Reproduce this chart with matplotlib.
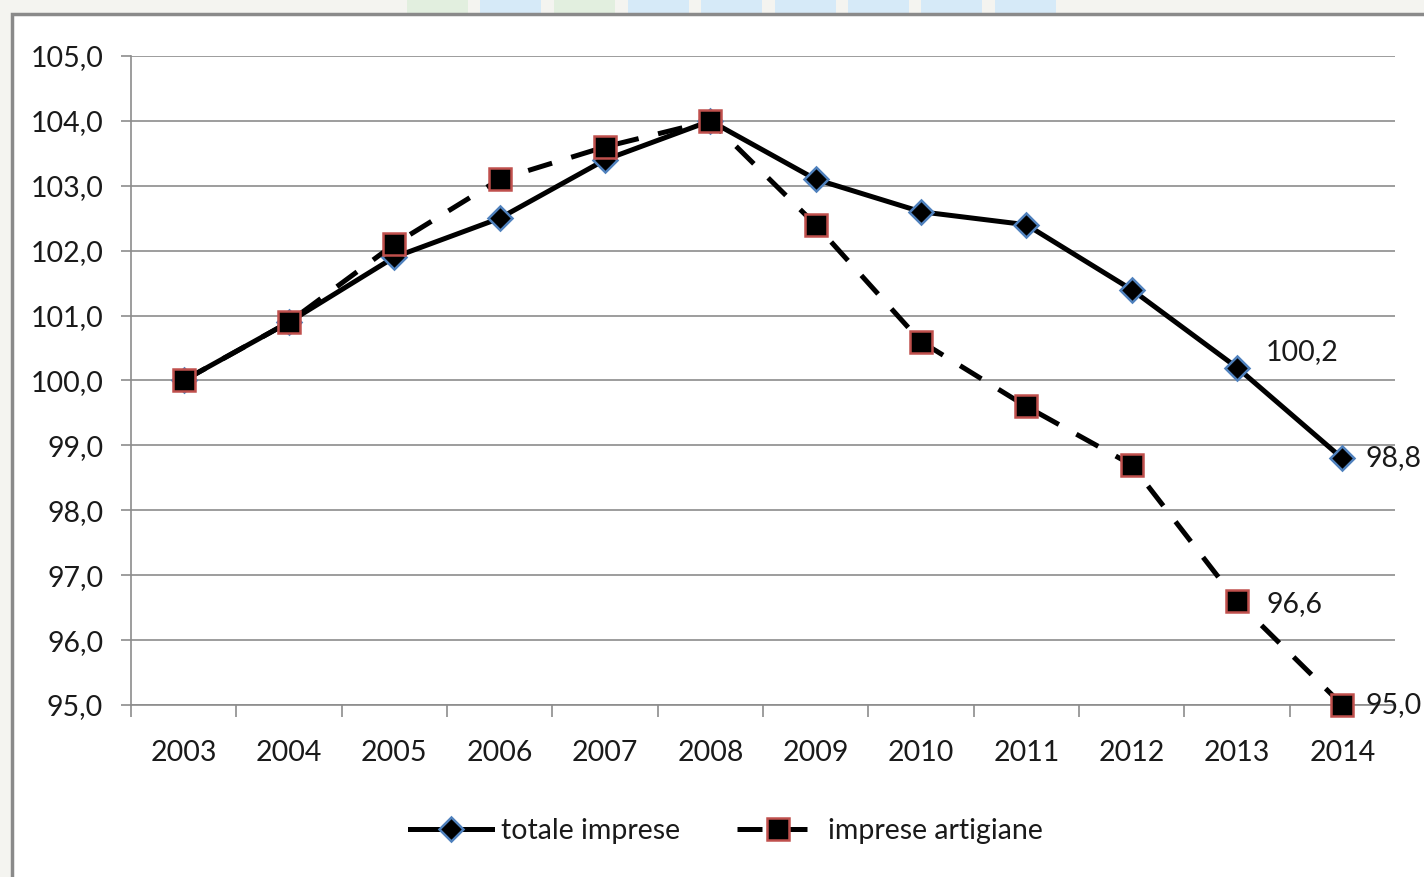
import matplotlib
matplotlib.use("Agg")
import matplotlib.pyplot as plt
from matplotlib.patches import Rectangle
from matplotlib.ticker import FuncFormatter, FixedLocator

years = ["2003", "2004", "2005", "2006", "2007", "2008",
         "2009", "2010", "2011", "2012", "2013", "2014"]
totale_imprese = [100.0, 100.9, 101.9, 102.5, 103.4, 104.0,
                  103.1, 102.6, 102.4, 101.4, 100.2, 98.8]
imprese_artigiane = [100.0, 100.9, 102.1, 103.1, 103.6, 104.0,
                     102.4, 100.6, 99.6, 98.7, 96.6, 95.0]
y_ticks = [95, 96, 97, 98, 99, 100, 101, 102, 103, 104, 105]

plt.rcParams['font.family'] = ['Lato', 'DejaVu Sans']

W, H = 1424, 877
fig = plt.figure(figsize=(W / 100, H / 100), dpi=100)
fig.patch.set_facecolor('#f4f4f0')

# decorative strip at top (background image remnants)
deco = [(407, '#e2efdf'), (480, '#d6eaf8'), (554, '#e2efdf'), (628, '#d6eaf8'),
        (701, '#d6eaf8'), (775, '#d6eaf8'), (848, '#d6eaf8'), (921, '#d6eaf8'),
        (995, '#d6eaf8')]
for x0, c in deco:
    fig.patches.append(Rectangle((x0 / W, 1 - 14 / H), 61 / W, 14 / H,
                                 transform=fig.transFigure, facecolor=c,
                                 edgecolor='none', zorder=0))

# white frame
fig.patches.append(Rectangle((12 / W, -0.1), 1.2, (1 - 14 / H) + 0.1,
                             transform=fig.transFigure, facecolor='white',
                             edgecolor='#8a8a8a', linewidth=2.5, zorder=1))

ax = fig.add_axes([131 / W, 1 - 705 / H, (1395 - 131) / W, (705 - 56) / H])
ax.set_facecolor('none')
ax.set_zorder(2)

x = list(range(len(years)))
ax.plot(x, totale_imprese, color='black', lw=3.6, marker='D', ms=12,
        mfc='black', mec='#4f81bd', mew=1.8, label='totale imprese', zorder=3,
        clip_on=False)
ax.plot(x, imprese_artigiane, color='black', lw=3.6, dashes=(5.0, 4.0),
        marker='s', ms=16, mfc='black', mec='#c0504d', mew=1.8,
        label='imprese artigiane', zorder=4, clip_on=False)

ax.set_xlim(-0.5, len(years) - 0.5)
ax.set_ylim(95, 105)
ax.set_yticks(y_ticks)
ax.yaxis.set_major_formatter(FuncFormatter(lambda v, p: f"{v:.1f}".replace('.', ',')))
ax.set_xticks(x)
ax.set_xticklabels(years)
ax.xaxis.set_minor_locator(FixedLocator([i - 0.5 for i in range(len(years))]))

ax.tick_params(axis='y', length=7, width=1.2, color='#8c8c8c', pad=13,
               labelsize=20.5, labelcolor='#1a1a1a')
ax.tick_params(axis='x', which='major', length=0, pad=25, labelsize=20.5,
               labelcolor='#1a1a1a')
ax.tick_params(axis='x', which='minor', length=8.5, width=1.2, color='#8c8c8c')

ax.grid(axis='y', color='#8c8c8c', lw=1.2)
ax.set_axisbelow(True)
for s in ['top', 'right']:
    ax.spines[s].set_visible(False)
for s in ['left', 'bottom']:
    ax.spines[s].set_color('#8c8c8c')
    ax.spines[s].set_linewidth(1.2)

def fmt(v):
    return f"{v:.1f}".replace('.', ',')

ax.annotate(fmt(totale_imprese[10]), (10, totale_imprese[10]), xytext=(21, 11),
            textcoords='offset points', ha='left', va='center', fontsize=20.5,
            color='#1a1a1a')
ax.annotate(fmt(totale_imprese[11]), (11, totale_imprese[11]), xytext=(17, 0),
            textcoords='offset points', ha='left', va='center', fontsize=20.5,
            color='#1a1a1a', annotation_clip=False)
ax.annotate(fmt(imprese_artigiane[10]), (10, imprese_artigiane[10]), xytext=(21, -2),
            textcoords='offset points', ha='left', va='center', fontsize=20.5,
            color='#1a1a1a')
ax.annotate(fmt(imprese_artigiane[11]), (11, imprese_artigiane[11]), xytext=(17, 0),
            textcoords='offset points', ha='left', va='center', fontsize=20.5,
            color='#1a1a1a', annotation_clip=False)

leg = fig.legend(loc='center', bbox_to_anchor=(0.51, 1 - 831 / H), ncol=2,
                 frameon=False, fontsize=20.5, handlelength=2.9, numpoints=1,
                 columnspacing=2.0, handletextpad=0.3)
for t in leg.get_texts():
    t.set_color('#1a1a1a')

fig.savefig('out.png', dpi=100, facecolor=fig.get_facecolor())
